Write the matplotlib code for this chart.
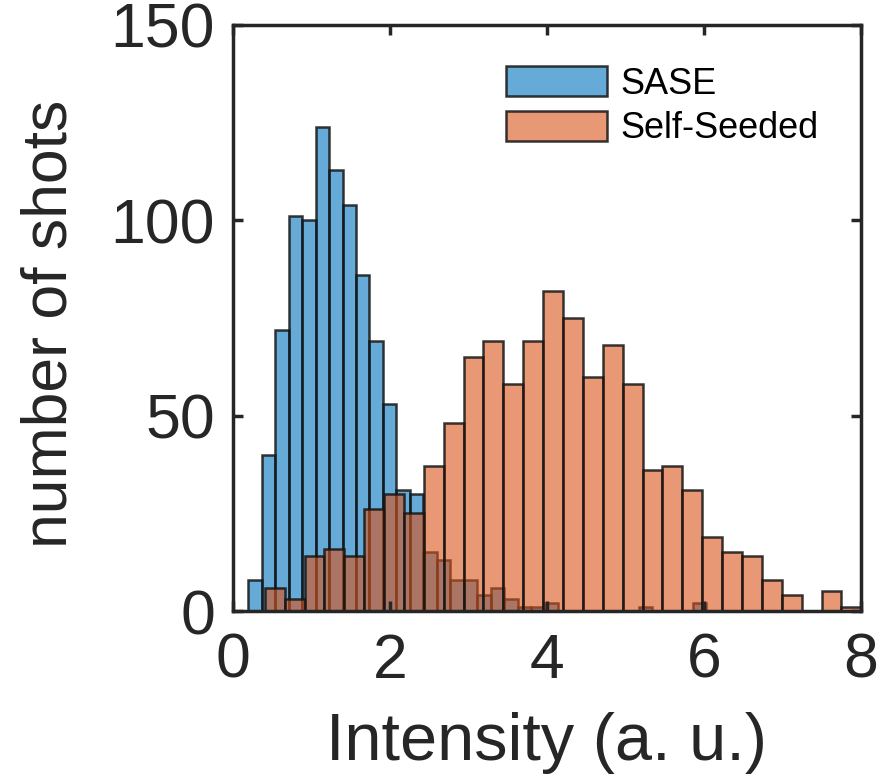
import numpy as np
import matplotlib
matplotlib.use("Agg")
import matplotlib.pyplot as plt

plt.rcParams['font.family'] = ['Liberation Sans', 'DejaVu Sans']

# histogram counts
sase_counts = [8, 40, 72, 101, 100, 124, 113, 104, 86, 69, 53, 31, 30, 15, 13, 8, 8,
               4, 6, 3, 1, 1, 2, 0, 0, 0, 0, 0, 0, 1, 0, 0, 0, 2]
seeded_counts = [6, 3, 14, 16, 14, 26, 30, 25, 37, 48, 65, 69, 58, 69, 82, 75, 60,
                 68, 58, 36, 37, 31, 19, 15, 14, 8, 4, 0, 5, 1]

# bin grids (intensity, a.u.)
sase_edges = 0.195 + 0.1715 * np.arange(len(sase_counts) + 1)
seeded_edges = 0.405 + 0.2533 * np.arange(len(seeded_counts) + 1)

labels = ['SASE', 'Self-Seeded']
x_ticks = [0, 2, 4, 6, 8]
y_ticks = [0, 50, 100, 150]

blue = (0.0, 0.447, 0.741, 0.6)
orange = (0.85, 0.325, 0.098, 0.6)
edge = (0.08, 0.08, 0.08, 0.85)

fig = plt.figure(figsize=(8.95, 7.76), dpi=100)
ax = fig.add_axes([0.2603, 0.2126, 0.7017, 0.7552])

ax.bar(sase_edges[:-1], sase_counts, width=np.diff(sase_edges), align='edge',
       facecolor=blue, edgecolor=edge, linewidth=1.8, label=labels[0])
ax.bar(seeded_edges[:-1], seeded_counts, width=np.diff(seeded_edges), align='edge',
       facecolor=orange, edgecolor=edge, linewidth=1.8, label=labels[1])

ax.set_xlim(0, 8)
ax.set_ylim(0, 150)
ax.set_xticks(x_ticks)
ax.set_yticks(y_ticks)

for s in ax.spines.values():
    s.set_linewidth(2.5)
    s.set_color('#262626')
ax.tick_params(direction='in', top=True, right=True, length=7, width=2.5,
               color='#262626', labelcolor='#262626', labelsize=45)
ax.tick_params(axis='x', pad=15)
ax.tick_params(axis='y', pad=13)

ax.set_xlabel('Intensity (a. u.)', fontsize=48, color='#262626')
ax.set_ylabel('number of shots', fontsize=45, color='#262626')
ax.xaxis.set_label_coords(0.5, -0.172)
ax.yaxis.set_label_coords(-0.245, 0.49)

ax.legend(loc='upper left', bbox_to_anchor=(506 / 895, 1 - 66 / 776),
          bbox_transform=fig.transFigure, frameon=False, fontsize=26,
          handlelength=2.8, handleheight=0.92, handletextpad=0.38,
          labelspacing=0.25, borderpad=0, borderaxespad=0)

fig.savefig('out.png', dpi=100)
